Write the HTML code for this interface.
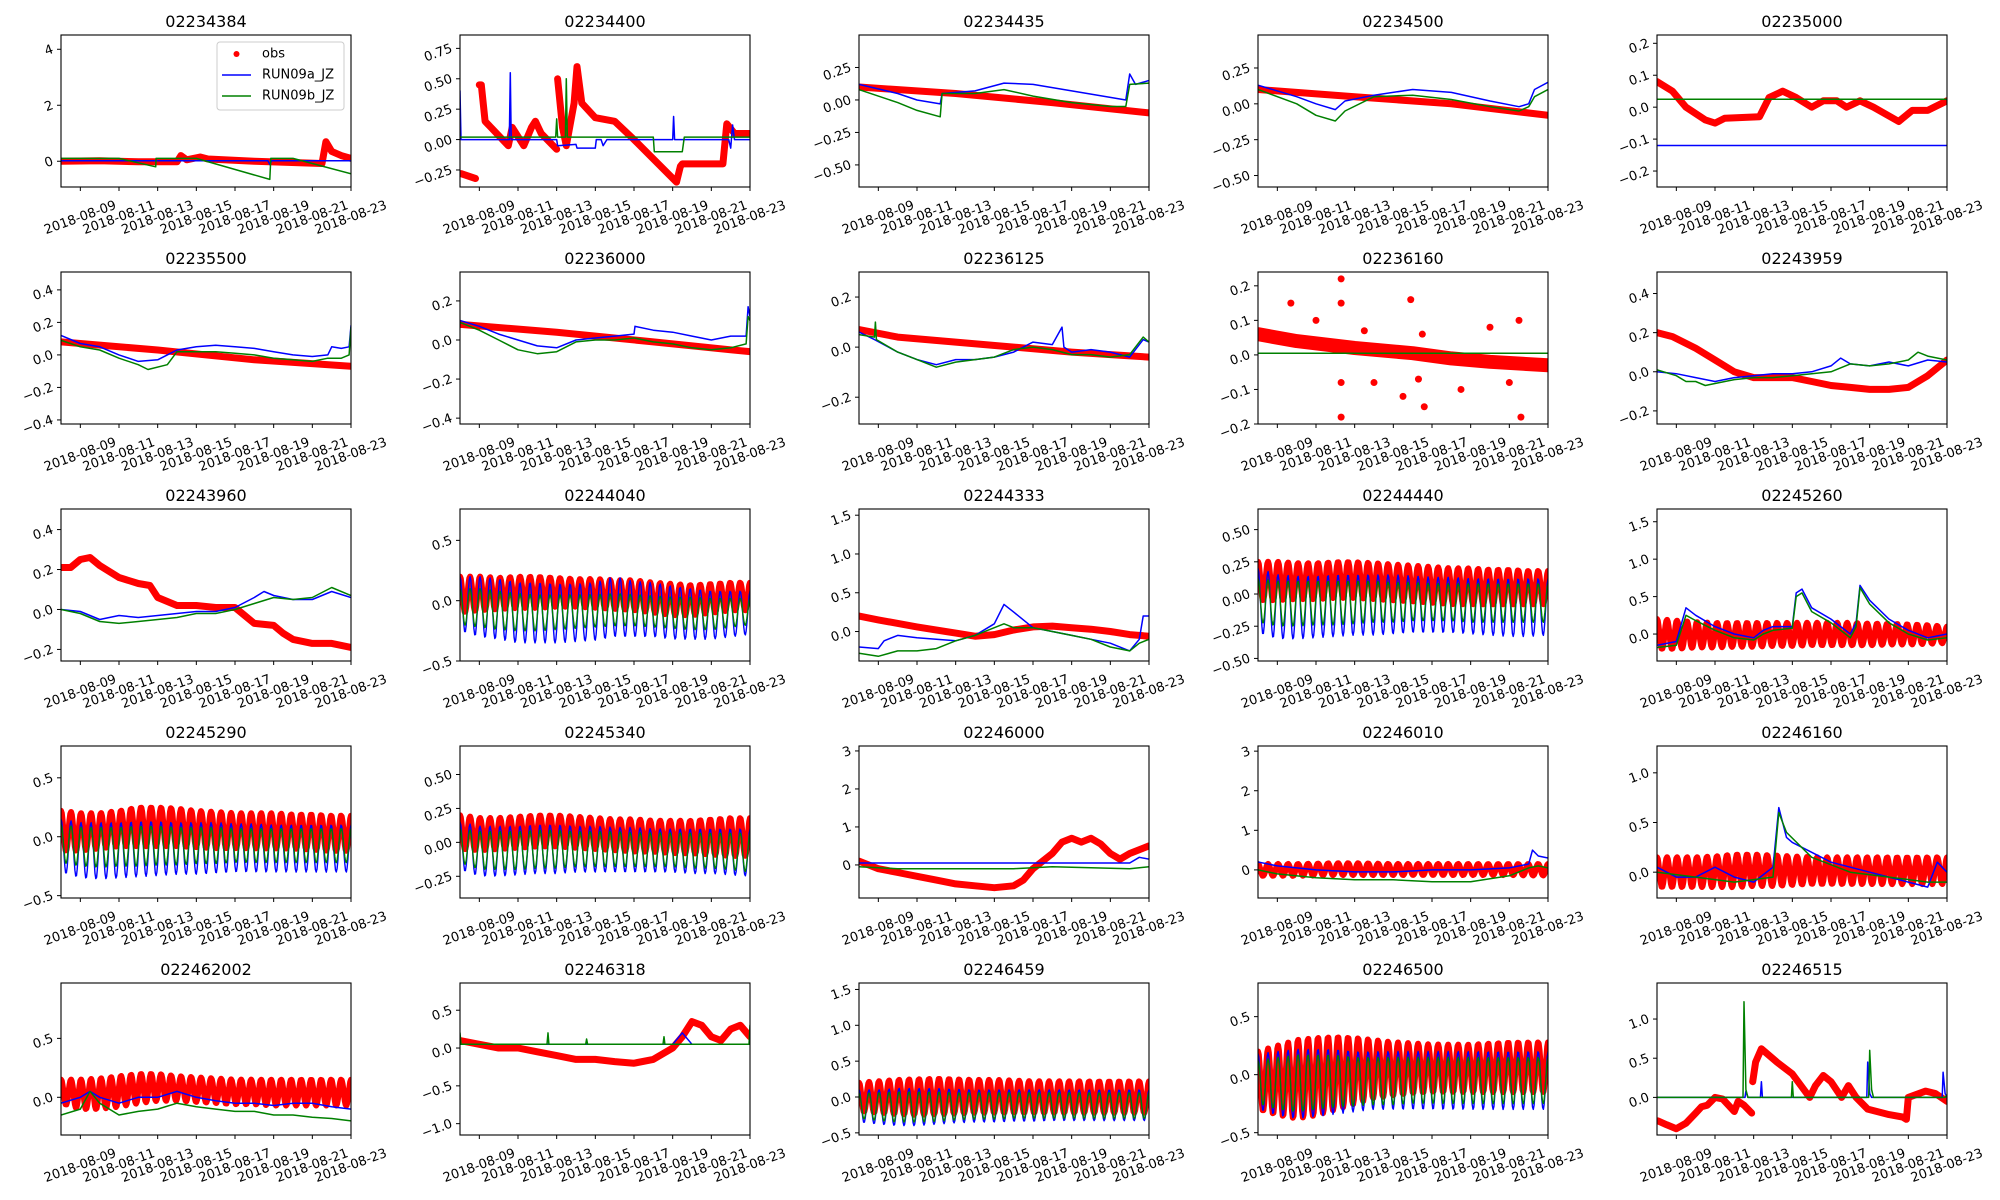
<!DOCTYPE html>
<html><head><meta charset="utf-8"><title>Stations</title>
<style>
html,body{margin:0;padding:0;background:#fff;}
svg{display:block;font-family:"DejaVu Sans","Liberation Sans",sans-serif;}
</style></head>
<body>
<svg id="fig" width="2000" height="1200" viewBox="0 0 2000 1200" xmlns="http://www.w3.org/2000/svg"></svg>
<script>
// ---------- data (days since 2018-08-08, value) ----------
const xTickLabels = ["2018-08-09","2018-08-11","2018-08-13","2018-08-15","2018-08-17","2018-08-19","2018-08-21","2018-08-23"];
const xTickDays = [1,3,5,7,9,11,13,15];
const titles = ["02234384","02234400","02234435","02234500","02235000","02235500","02236000","02236125","02236160","02243959","02243960","02244040","02244333","02244440","02245260","02245290","02245340","02246000","02246010","02246160","022462002","02246318","02246459","02246500","02246515"];
const yLims = [[-0.92,4.51],[-0.39,0.86],[-0.67,0.5],[-0.58,0.48],[-0.25,0.226],[-0.425,0.51],[-0.43,0.348],[-0.307,0.30],[-0.2,0.24],[-0.267,0.51],[-0.258,0.503],[-0.5,0.76],[-0.38,1.58],[-0.52,0.66],[-0.36,1.67],[-0.52,0.77],[-0.41,0.71],[-0.87,3.13],[-0.71,3.13],[-0.26,1.27],[-0.32,0.97],[-1.15,0.86],[-0.53,1.59],[-0.52,0.79],[-0.48,1.46]];
const yTicks = [["0","2","4"],["−0.25","0.00","0.25","0.50","0.75"],["−0.50","−0.25","0.00","0.25"],["−0.50","−0.25","0.00","0.25"],["−0.2","−0.1","0.0","0.1","0.2"],["−0.4","−0.2","0.0","0.2","0.4"],["−0.4","−0.2","0.0","0.2"],["−0.2","0.0","0.2"],["−0.2","−0.1","0.0","0.1","0.2"],["−0.2","0.0","0.2","0.4"],["−0.2","0.0","0.2","0.4"],["−0.5","0.0","0.5"],["0.0","0.5","1.0","1.5"],["−0.50","−0.25","0.00","0.25","0.50"],["0.0","0.5","1.0","1.5"],["−0.5","0.0","0.5"],["−0.25","0.00","0.25","0.50"],["0","1","2","3"],["0","1","2","3"],["0.0","0.5","1.0"],["0.0","0.5"],["−1.0","−0.5","0.0","0.5"],["−0.5","0.0","0.5","1.0","1.5"],["−0.5","0.0","0.5"],["0.0","0.5","1.0"]];

const p01_obs=[[0,0],[2,0.02],[4,-0.02],[6,-0.02],[6.2,0.2],[6.5,0.05],[7.2,0.15],[7.6,0.08],[10,0.0],[13.5,-0.08],[13.7,0.7],[14,0.35],[14.5,0.2],[15,0.1]];
const p01_a=[[0,0.02],[10.7,0.02],[10.8,-0.12],[10.9,0.02],[15,0.02]];
const p01_b=[[0,0.1],[3,0.1],[4.9,-0.2],[4.92,0.1],[7,0.1],[10.8,-0.65],[10.85,0.1],[12,0.1],[15,-0.45]];
const p02_obs=[[0.05,-0.28],[0.8,-0.32],[null,null],[1.0,0.45],[1.1,0.45],[1.3,0.15],[1.6,0.1],[2.5,-0.05],[2.7,0.1],[3.3,-0.05],[3.7,0.1],[3.9,0.15],[4.2,0.05],[5.0,-0.08],[null,null],[5.05,0.5],[5.3,0.1],[5.5,-0.05],[5.9,0.3],[6.05,0.6],[6.3,0.3],[7.0,0.18],[8.0,0.15],[9,0.0],[11.2,-0.35],[11.4,-0.22],[11.5,-0.2],[13.6,-0.2],[13.8,0.13],[14.2,0.05],[15,0.05]];
const p02_a=[[0,0.4],[0.05,0],[2.55,0],[2.6,0.55],[2.65,0],[5.0,0],[5.05,-0.05],[6,-0.04],[6.05,-0.07],[7.0,-0.07],[7.05,0],[7.3,0],[7.4,-0.05],[7.6,0],[11.0,0],[11.05,0.19],[11.1,0],[13.9,0],[14.0,-0.07],[14.1,0.12],[14.2,0],[15,0]];
const p02_b=[[0,0.02],[4.95,0.02],[5.0,0.17],[5.05,0.02],[5.45,0.02],[5.5,0.5],[5.55,0.02],[10.0,0.02],[10.05,-0.1],[11.5,-0.1],[11.6,0.02],[15,0.02]];
const p03_obs=[[0,0.1],[5,0.05],[10,-0.02],[15,-0.1]];
const p03_a=[[0,0.12],[2,0.05],[3,0.0],[4.2,-0.03],[4.3,0.05],[6,0.07],[7.5,0.13],[9,0.12],[11,0.07],[13,0.02],[13.8,0.0],[14.0,0.2],[14.3,0.12],[15,0.15]];
const p03_b=[[0,0.08],[2,-0.02],[3,-0.08],[4.2,-0.13],[4.3,0.05],[6,0.05],[7.5,0.08],[9,0.03],[11,-0.02],[13,-0.05],[13.8,-0.05],[14.0,0.12],[15,0.13]];
const p04_obs=[[0,0.1],[5,0.05],[10,0.0],[15,-0.08]];
const p04_a=[[0,0.13],[2,0.05],[3,0.0],[4,-0.04],[4.5,0.02],[6,0.06],[8,0.1],[10,0.08],[12,0.02],[13.5,-0.02],[14,0.0],[14.3,0.1],[15,0.15]];
const p04_b=[[0,0.1],[2,0.0],[3,-0.08],[4,-0.12],[4.5,-0.05],[6,0.05],[8,0.06],[10,0.03],[12,-0.02],[13.5,-0.05],[14,-0.02],[14.3,0.05],[15,0.1]];
const p05_obs=[[0,0.08],[0.8,0.05],[1.5,0.0],[2.5,-0.04],[3,-0.05],[3.5,-0.035],[5.3,-0.03],[5.8,0.03],[6.5,0.05],[7.2,0.03],[8.0,0.0],[8.6,0.02],[9.3,0.02],[9.8,0.0],[10.5,0.02],[11.2,0.0],[12.5,-0.045],[13.2,-0.01],[14,-0.01],[15,0.02]];
const p05_a=[[0,-0.12],[15,-0.12]];
const p05_b=[[0,0.025],[15,0.025]];
const p06_obs=[[0,0.08],[5,0.03],[10,-0.03],[15,-0.07]];
const p06_a=[[0,0.12],[1,0.07],[2,0.05],[3,0.0],[4,-0.04],[5,-0.03],[5.5,0.0],[6,0.03],[7,0.05],[8,0.06],[9,0.05],[10,0.04],[11,0.02],[12,0.0],[13,-0.01],[13.8,0.0],[14,0.05],[14.5,0.04],[14.9,0.05],[15,0.18]];
const p06_b=[[0,0.09],[1,0.05],[2,0.03],[3,-0.02],[4,-0.06],[4.5,-0.09],[5.5,-0.06],[6,0.02],[7,0.02],[8,0.02],[9,0.01],[10,0.0],[11,-0.02],[12,-0.03],[13,-0.04],[13.8,-0.02],[14.5,-0.02],[14.9,0.0],[15,0.17]];
const p07_obs=[[0,0.08],[5,0.04],[10,-0.01],[14,-0.05],[15,-0.06]];
const p07_a=[[0,0.1],[1,0.07],[2,0.03],[3,0.0],[4,-0.03],[5,-0.04],[6,0.0],[7,0.01],[8,0.02],[9,0.03],[9.05,0.07],[10,0.05],[11,0.04],[12,0.02],[13,0.0],[14,0.02],[14.8,0.02],[14.9,0.17],[15,0.12]];
const p07_b=[[0,0.09],[1,0.05],[2,0.0],[3,-0.05],[4,-0.07],[5,-0.06],[6,-0.01],[7,0.0],[8,0.0],[9,0.01],[10,-0.01],[11,-0.02],[12,-0.04],[13,-0.05],[14,-0.04],[14.8,-0.02],[14.9,0.12],[15,0.1]];
const p08_obs=[[0,0.07],[2,0.04],[5,0.02],[8,0.0],[11,-0.02],[13,-0.03],[15,-0.04]];
const p08_a=[[0,0.06],[0.8,0.03],[2,-0.02],[3,-0.05],[4,-0.07],[5,-0.05],[6,-0.05],[7,-0.04],[8,-0.02],[8.5,0.0],[9,0.02],[10,0.01],[10.5,0.08],[10.6,0.0],[11,-0.02],[12,-0.01],[13,-0.02],[14,-0.04],[14.7,0.03],[15,0.02]];
const p08_b=[[0,0.05],[0.8,0.04],[0.85,0.1],[0.9,0.03],[2,-0.02],[3,-0.05],[4,-0.08],[5,-0.06],[6,-0.05],[7,-0.04],[8,-0.01],[9,0.0],[10,-0.01],[11,-0.03],[12,-0.03],[13,-0.04],[14,-0.03],[14.7,0.04],[15,0.02]];
const p09_obs=[[0,0.06],[2,0.04],[5,0.02],[8,0.005],[10,-0.01],[12,-0.02],[15,-0.03]];
const p09_out=[[1.7,0.15],[3,0.1],[4.3,0.22],[4.3,-0.18],[4.3,0.15],[4.3,-0.08],[5.5,0.07],[6,-0.08],[7.9,0.16],[8.5,0.06],[8.3,-0.07],[8.6,-0.15],[12,0.08],[13.5,0.1],[13.6,-0.18],[13,-0.08],[7.5,-0.12],[10.5,-0.1]];
const p09_a=[[0,0.005],[15,0.005]];
const p09_b=[[0,0.005],[15,0.005]];
const p10_obs=[[0,0.2],[0.8,0.18],[2,0.12],[3,0.06],[4,0.0],[5,-0.03],[6,-0.03],[7,-0.03],[8,-0.05],[9,-0.07],[10,-0.08],[11,-0.09],[12,-0.09],[13,-0.08],[14,-0.02],[15,0.06]];
const p10_a=[[0,0.0],[1,-0.01],[2,-0.03],[3,-0.05],[4,-0.03],[5,-0.02],[6,-0.01],[7,-0.01],[8,0.0],[9,0.03],[9.5,0.07],[10,0.04],[11,0.03],[12,0.05],[13,0.03],[14,0.06],[15,0.05]];
const p10_b=[[0,0.01],[1,-0.02],[1.5,-0.05],[2,-0.05],[2.5,-0.07],[3,-0.06],[4,-0.04],[5,-0.03],[6,-0.03],[7,-0.02],[8,-0.01],[9,0.0],[10,0.04],[11,0.03],[12,0.04],[13,0.06],[13.5,0.1],[14,0.08],[15,0.06]];
const p11_obs=[[0,0.21],[0.5,0.21],[1,0.25],[1.5,0.26],[2,0.22],[3,0.16],[4,0.13],[4.6,0.12],[5,0.06],[6,0.02],[7,0.02],[8,0.01],[9,0.01],[9.5,-0.03],[10,-0.07],[11,-0.08],[11.5,-0.12],[12,-0.15],[13,-0.17],[14,-0.17],[15,-0.19]];
const p11_a=[[0,0.0],[1,-0.01],[2,-0.05],[3,-0.03],[4,-0.04],[5,-0.03],[6,-0.02],[7,-0.01],[8,-0.01],[9,0.01],[10,0.06],[10.5,0.09],[11,0.07],[12,0.05],[13,0.05],[14,0.09],[15,0.06]];
const p11_b=[[0,0.0],[1,-0.02],[2,-0.06],[3,-0.07],[4,-0.06],[5,-0.05],[6,-0.04],[7,-0.02],[8,-0.02],[9,0.0],[10,0.03],[11,0.06],[12,0.05],[13,0.06],[14,0.11],[15,0.07]];
const p12_obs_hi=[0.2,0.2,0.19,0.2,0.2,0.19,0.18,0.18,0.17,0.17,0.15,0.14,0.13,0.14,0.15,0.15];
const p12_obs_lo=[-0.1,-0.08,-0.07,-0.06,-0.06,-0.05,-0.05,-0.06,-0.07,-0.08,-0.1,-0.12,-0.12,-0.1,-0.08,-0.08];
const p12_a_hi=[0.2,0.2,0.18,0.15,0.15,0.14,0.14,0.15,0.2,0.16,0.15,0.12,0.1,0.08,0.08,0.08];
const p12_a_lo=[-0.25,-0.3,-0.32,-0.35,-0.35,-0.35,-0.34,-0.33,-0.3,-0.3,-0.3,-0.32,-0.32,-0.32,-0.3,-0.28];
const p12_b_hi=[0.1,0.1,0.08,0.06,0.05,0.05,0.05,0.05,0.06,0.05,0.04,0.03,0.03,0.02,0.02,0.02];
const p12_b_lo=[-0.2,-0.22,-0.24,-0.25,-0.25,-0.24,-0.23,-0.22,-0.21,-0.21,-0.22,-0.23,-0.24,-0.24,-0.22,-0.2];
const p13_obs=[[0,0.2],[1,0.15],[3,0.06],[5,-0.02],[6,-0.06],[7,-0.04],[8,0.02],[9,0.06],[10,0.07],[11,0.05],[12,0.03],[13,0.0],[14,-0.04],[15,-0.06]];
const p13_a=[[0,-0.2],[1,-0.22],[1.3,-0.12],[2,-0.05],[3,-0.08],[4,-0.1],[5,-0.12],[6,-0.05],[7,0.1],[7.5,0.35],[8,0.25],[9,0.05],[10,0.0],[11,-0.05],[12,-0.1],[13,-0.15],[14,-0.25],[14.5,-0.1],[14.7,0.2],[15,0.2]];
const p13_b=[[0,-0.28],[1,-0.32],[2,-0.25],[3,-0.25],[4,-0.22],[5,-0.12],[6,-0.05],[7,0.05],[7.5,0.1],[8,0.05],[9,0.05],[10,0.0],[11,-0.05],[12,-0.1],[13,-0.2],[14,-0.25],[14.5,-0.15],[15,-0.1]];
const p14_obs_hi=[0.25,0.25,0.24,0.24,0.25,0.25,0.24,0.23,0.22,0.21,0.2,0.2,0.19,0.19,0.18,0.18];
const p14_obs_lo=[-0.05,-0.05,-0.04,-0.04,-0.03,-0.03,-0.04,-0.05,-0.06,-0.07,-0.08,-0.08,-0.08,-0.08,-0.08,-0.08];
const p14_a_hi=[0.2,0.15,0.14,0.14,0.15,0.15,0.15,0.15,0.14,0.13,0.13,0.12,0.12,0.12,0.12,0.12];
const p14_a_lo=[-0.3,-0.35,-0.35,-0.34,-0.33,-0.32,-0.32,-0.31,-0.3,-0.3,-0.3,-0.31,-0.32,-0.33,-0.33,-0.32];
const p14_b_hi=[0.12,0.1,0.1,0.1,0.1,0.1,0.1,0.09,0.09,0.08,0.08,0.08,0.08,0.08,0.08,0.08];
const p14_b_lo=[-0.22,-0.25,-0.25,-0.24,-0.24,-0.23,-0.22,-0.22,-0.21,-0.21,-0.21,-0.22,-0.22,-0.22,-0.22,-0.22];
const p15_obs_hi=[0.2,0.18,0.16,0.15,0.15,0.15,0.15,0.15,0.15,0.15,0.15,0.14,0.14,0.13,0.12,0.1];
const p15_obs_lo=[-0.2,-0.2,-0.18,-0.18,-0.17,-0.17,-0.16,-0.16,-0.15,-0.15,-0.15,-0.15,-0.14,-0.14,-0.13,-0.12];
const p15_a=[[0,-0.15],[1,-0.1],[1.5,0.35],[2,0.25],[3,0.1],[4,0.0],[5,-0.05],[5.5,0.05],[6,0.1],[7,0.1],[7.2,0.55],[7.5,0.6],[8,0.35],[9,0.2],[9.5,0.1],[10,0.0],[10.3,0.15],[10.5,0.65],[11,0.45],[12,0.2],[13,0.05],[14,-0.05],[15,0.0]];
const p15_b=[[0,-0.18],[1,-0.15],[1.5,0.25],[2,0.18],[3,0.05],[4,-0.05],[5,-0.08],[5.5,0.0],[6,0.05],[7,0.08],[7.2,0.5],[7.5,0.55],[8,0.3],[9,0.15],[9.5,0.05],[10,-0.05],[10.3,0.1],[10.5,0.62],[11,0.4],[12,0.15],[13,0.0],[14,-0.08],[15,-0.05]];
const p16_obs_hi=[0.22,0.2,0.2,0.22,0.25,0.25,0.24,0.22,0.21,0.2,0.2,0.2,0.19,0.19,0.18,0.18];
const p16_obs_lo=[-0.12,-0.12,-0.1,-0.08,-0.08,-0.08,-0.08,-0.09,-0.1,-0.1,-0.1,-0.1,-0.1,-0.11,-0.12,-0.12];
const p16_a_hi=[0.15,0.12,0.12,0.12,0.13,0.13,0.12,0.12,0.12,0.11,0.11,0.1,0.1,0.1,0.1,0.1];
const p16_a_lo=[-0.3,-0.35,-0.36,-0.35,-0.34,-0.33,-0.32,-0.32,-0.31,-0.3,-0.3,-0.3,-0.3,-0.3,-0.3,-0.3];
const p16_b_hi=[0.1,0.08,0.08,0.08,0.09,0.09,0.08,0.08,0.08,0.07,0.07,0.07,0.07,0.07,0.07,0.07];
const p16_b_lo=[-0.22,-0.25,-0.26,-0.25,-0.25,-0.24,-0.24,-0.23,-0.23,-0.22,-0.22,-0.22,-0.22,-0.22,-0.22,-0.22];
const p17_obs_hi=[0.2,0.18,0.18,0.19,0.2,0.2,0.19,0.18,0.17,0.17,0.16,0.16,0.16,0.17,0.18,0.18];
const p17_obs_lo=[-0.05,-0.06,-0.05,-0.04,-0.03,-0.03,-0.04,-0.05,-0.06,-0.07,-0.07,-0.08,-0.08,-0.09,-0.1,-0.1];
const p17_a_hi=[0.15,0.12,0.12,0.12,0.13,0.13,0.12,0.12,0.11,0.11,0.1,0.1,0.1,0.1,0.1,0.1];
const p17_a_lo=[-0.2,-0.25,-0.25,-0.24,-0.23,-0.23,-0.22,-0.22,-0.22,-0.22,-0.22,-0.22,-0.23,-0.23,-0.24,-0.25];
const p17_b_hi=[0.1,0.08,0.08,0.08,0.09,0.09,0.08,0.08,0.08,0.07,0.07,0.07,0.07,0.07,0.07,0.07];
const p17_b_lo=[-0.15,-0.2,-0.2,-0.2,-0.19,-0.19,-0.18,-0.18,-0.18,-0.18,-0.18,-0.18,-0.19,-0.19,-0.2,-0.22];
const p18_obs=[[0,0.1],[1,-0.1],[2,-0.2],[3,-0.3],[4,-0.4],[5,-0.5],[6,-0.55],[7,-0.6],[8,-0.55],[8.5,-0.4],[9,-0.1],[10,0.3],[10.5,0.6],[11,0.7],[11.5,0.6],[12,0.7],[12.5,0.55],[13,0.3],[13.5,0.15],[14,0.3],[15,0.5]];
const p18_a=[[0,0.05],[10,0.05],[14,0.05],[14.5,0.2],[15,0.15]];
const p18_b=[[0,-0.05],[2,-0.1],[6,-0.1],[8,-0.1],[10,-0.05],[14,-0.1],[15,-0.05]];
const p19_obs_hi=[0.15,0.15,0.15,0.16,0.17,0.17,0.16,0.15,0.15,0.15,0.15,0.15,0.15,0.15,0.15,0.15];
const p19_obs_lo=[-0.15,-0.15,-0.15,-0.14,-0.13,-0.13,-0.13,-0.13,-0.13,-0.13,-0.13,-0.13,-0.13,-0.13,-0.14,-0.14];
const p19_a=[[0,0.2],[1,0.1],[3,0.0],[5,-0.05],[7,-0.05],[9,0.0],[11,0.0],[13,0.05],[14,0.15],[14.2,0.5],[14.5,0.35],[15,0.3]];
const p19_b=[[0,0.0],[1,-0.1],[3,-0.2],[5,-0.25],[7,-0.25],[9,-0.3],[11,-0.3],[13,-0.15],[14,0.05],[14.5,0.1],[15,0.05]];
const p20_obs_hi=[0.15,0.15,0.15,0.16,0.18,0.18,0.17,0.16,0.15,0.15,0.15,0.15,0.15,0.15,0.15,0.15];
const p20_obs_lo=[-0.15,-0.15,-0.15,-0.15,-0.15,-0.14,-0.14,-0.13,-0.12,-0.12,-0.12,-0.12,-0.12,-0.12,-0.12,-0.12];
const p20_a=[[0,0.05],[1,-0.05],[2,-0.05],[3,0.05],[4,-0.05],[5,-0.1],[6,0.05],[6.3,0.65],[6.7,0.35],[7,0.3],[8,0.2],[9,0.1],[10,0.05],[11,0.0],[12,-0.05],[13,-0.1],[14,-0.15],[14.5,0.1],[15,0.0]];
const p20_b=[[0,0.0],[2,-0.05],[4,-0.1],[6,-0.05],[6.3,0.6],[6.7,0.4],[8,0.15],[10,0.0],[12,-0.05],[14,-0.1],[15,-0.1]];
const p21_obs_hi=[0.15,0.15,0.16,0.18,0.2,0.2,0.18,0.17,0.16,0.15,0.15,0.15,0.15,0.15,0.15,0.15];
const p21_obs_lo=[-0.05,-0.1,-0.1,-0.08,-0.05,-0.03,-0.03,-0.04,-0.05,-0.06,-0.06,-0.07,-0.07,-0.07,-0.07,-0.07];
const p21_a=[[0,-0.05],[1,0.0],[1.5,0.05],[2,0.0],[3,-0.05],[4,0.0],[5,0.0],[6,0.05],[7,0.0],[8,-0.03],[9,-0.05],[10,-0.05],[11,-0.07],[12,-0.05],[13,-0.05],[14,-0.08],[15,-0.1]];
const p21_b=[[0,-0.15],[1,-0.1],[1.5,0.05],[2,-0.05],[3,-0.15],[4,-0.12],[5,-0.1],[6,-0.05],[7,-0.08],[8,-0.1],[9,-0.12],[10,-0.12],[11,-0.15],[12,-0.15],[13,-0.17],[14,-0.18],[15,-0.2]];
const p22_obs=[[0,0.1],[1,0.05],[2,0.0],[3,0.0],[4,-0.05],[5,-0.1],[6,-0.15],[7,-0.15],[8,-0.18],[9,-0.2],[10,-0.15],[11,0.0],[11.5,0.15],[12,0.35],[12.5,0.3],[13,0.15],[13.5,0.1],[14,0.25],[14.5,0.3],[15,0.15]];
const p22_a=[[0,0.05],[10,0.05],[11,0.05],[11.5,0.2],[12,0.05],[15,0.05]];
const p22_b=[[0,0.2],[0.05,0.05],[4.5,0.05],[4.55,0.2],[4.6,0.05],[6.5,0.05],[6.55,0.12],[6.6,0.05],[10.5,0.05],[10.55,0.15],[10.6,0.05],[14.95,0.05],[15,0.3]];
const p23_obs_hi=[0.2,0.22,0.24,0.25,0.26,0.25,0.24,0.24,0.23,0.22,0.22,0.22,0.22,0.22,0.22,0.22];
const p23_obs_lo=[-0.2,-0.22,-0.24,-0.25,-0.24,-0.23,-0.22,-0.22,-0.22,-0.22,-0.22,-0.22,-0.22,-0.22,-0.22,-0.22];
const p23_a_hi=[0.1,0.1,0.12,0.12,0.12,0.11,0.1,0.1,0.1,0.1,0.1,0.1,0.1,0.1,0.1,0.1];
const p23_a_lo=[-0.35,-0.38,-0.4,-0.4,-0.38,-0.36,-0.35,-0.35,-0.34,-0.34,-0.33,-0.33,-0.33,-0.33,-0.33,-0.33];
const p23_b_hi=[0.05,0.06,0.07,0.07,0.07,0.06,0.06,0.06,0.06,0.06,0.06,0.06,0.06,0.06,0.06,0.06];
const p23_b_lo=[-0.3,-0.33,-0.35,-0.35,-0.34,-0.32,-0.31,-0.31,-0.3,-0.3,-0.3,-0.3,-0.3,-0.3,-0.3,-0.3];
const p24_obs_hi=[0.2,0.25,0.3,0.32,0.33,0.32,0.3,0.28,0.27,0.26,0.26,0.26,0.27,0.28,0.28,0.28];
const p24_obs_lo=[-0.3,-0.35,-0.38,-0.35,-0.3,-0.25,-0.2,-0.18,-0.16,-0.15,-0.15,-0.15,-0.15,-0.15,-0.15,-0.15];
const p24_a_hi=[0.18,0.2,0.22,0.22,0.22,0.2,0.2,0.2,0.2,0.2,0.2,0.2,0.2,0.2,0.2,0.2];
const p24_a_lo=[-0.3,-0.35,-0.38,-0.36,-0.34,-0.32,-0.3,-0.3,-0.3,-0.3,-0.3,-0.3,-0.3,-0.3,-0.3,-0.3];
const p24_b_hi=[0.12,0.15,0.17,0.17,0.17,0.15,0.15,0.15,0.15,0.15,0.15,0.15,0.15,0.15,0.15,0.15];
const p24_b_lo=[-0.25,-0.3,-0.32,-0.3,-0.28,-0.27,-0.26,-0.26,-0.25,-0.25,-0.25,-0.25,-0.25,-0.25,-0.25,-0.25];
const p25_obs=[[0.05,-0.3],[0.5,-0.35],[1.0,-0.4],[1.5,-0.33],[2.0,-0.2],[2.3,-0.12],[2.6,-0.1],[3.0,0.0],[3.4,-0.02],[4.0,-0.18],[4.2,-0.05],[4.5,-0.1],[4.9,-0.2],[null,null],[4.95,0.2],[5.1,0.45],[5.4,0.62],[6.2,0.45],[7.0,0.3],[7.9,0.0],[8.2,0.15],[8.6,0.28],[9.0,0.2],[9.55,0.0],[9.9,0.15],[10.3,0.0],[10.9,-0.15],[12.0,-0.22],[12.7,-0.25],[12.9,-0.28],[13.0,0.0],[13.9,0.08],[14.4,0.05],[15,-0.05]];
const p25_a=[[0,0],[4.55,0],[4.6,0.08],[4.7,0],[5.35,0],[5.4,0.2],[5.45,0],[10.85,0],[10.9,0.45],[11.0,0.05],[11.1,0],[14.75,0],[14.8,0.32],[14.9,0.05],[15,0]];
const p25_b=[[0,0],[4.45,0],[4.5,1.22],[4.6,0.1],[4.7,0],[6.95,0],[7.0,0.2],[7.05,0],[10.95,0],[11.0,0.6],[11.1,0.1],[11.2,0],[14.9,0],[15,0.03]];

const T=(hi,lo)=>({tide:true,hi:hi,lo:lo});
const obsSeries=[p01_obs,p02_obs,p03_obs,p04_obs,p05_obs,p06_obs,p07_obs,p08_obs,p09_obs,p10_obs,p11_obs,T(p12_obs_hi,p12_obs_lo),p13_obs,T(p14_obs_hi,p14_obs_lo),T(p15_obs_hi,p15_obs_lo),T(p16_obs_hi,p16_obs_lo),T(p17_obs_hi,p17_obs_lo),p18_obs,T(p19_obs_hi,p19_obs_lo),T(p20_obs_hi,p20_obs_lo),T(p21_obs_hi,p21_obs_lo),p22_obs,T(p23_obs_hi,p23_obs_lo),T(p24_obs_hi,p24_obs_lo),p25_obs];
const aSeries=[p01_a,p02_a,p03_a,p04_a,p05_a,p06_a,p07_a,p08_a,p09_a,p10_a,p11_a,T(p12_a_hi,p12_a_lo),p13_a,T(p14_a_hi,p14_a_lo),p15_a,T(p16_a_hi,p16_a_lo),T(p17_a_hi,p17_a_lo),p18_a,p19_a,p20_a,p21_a,p22_a,T(p23_a_hi,p23_a_lo),T(p24_a_hi,p24_a_lo),p25_a];
const bSeries=[p01_b,p02_b,p03_b,p04_b,p05_b,p06_b,p07_b,p08_b,p09_b,p10_b,p11_b,T(p12_b_hi,p12_b_lo),p13_b,T(p14_b_hi,p14_b_lo),p15_b,T(p16_b_hi,p16_b_lo),T(p17_b_hi,p17_b_lo),p18_b,p19_b,p20_b,p21_b,p22_b,T(p23_b_hi,p23_b_lo),T(p24_b_hi,p24_b_lo),p25_b];

// ---------- rendering ----------
const NS="http://www.w3.org/2000/svg";
const svg=document.getElementById('fig');
function mk(tag,attrs,parent){const e=document.createElementNS(NS,tag);for(const k in attrs)e.setAttribute(k,attrs[k]);(parent||svg).appendChild(e);return e;}
function expand(s){
  if(!s.tide) return s;
  const pts=[];
  for(let t=0;t<=15.0001;t+=0.04){
    const i=Math.min(14,Math.floor(t)),f=t-i;
    const h=s.hi[i]+(s.hi[i+1]-s.hi[i])*f, l=s.lo[i]+(s.lo[i+1]-s.lo[i])*f;
    pts.push([t,(h+l)/2+(h-l)/2*Math.cos(2*Math.PI*t*1.932)]);
  }
  return pts;
}
const W=290,H=152,DAYS=15;
for(let i=0;i<25;i++){
  const x0=61+399*(i%5), y0=35+237*Math.floor(i/5);
  const [ymin,ymax]=yLims[i];
  const xs=d=>x0+d/DAYS*W;
  const ys=v=>y0+H-(v-ymin)/(ymax-ymin)*H;
  const g=mk('g',{});
  
  
  const cp=mk('clipPath',{id:'c'+i},g);
  mk('rect',{x:x0,y:y0,width:W,height:H},cp);
  const title=mk('text',{x:x0+W/2,y:y0-8,'text-anchor':'middle','font-size':16,fill:'#000'},g);
  title.textContent=titles[i];
  
  
  const plot=mk('g',{'clip-path':'url(#c'+i+')'},g);
  const line=(s,color,w,name)=>{
    const pts=expand(s);let d='',pen=false;
    for(const p of pts){ if(p[0]===null){pen=false;continue;} d+=(pen?'L':'M')+xs(p[0]).toFixed(1)+' '+ys(p[1]).toFixed(1); pen=true;}
    const e=mk('path',{d:d,fill:'none',stroke:color,'stroke-width':w,'stroke-linejoin':'round','stroke-linecap':'round'},plot);
    
    
  };
  const obsW = i===8 ? 14 : (obsSeries[i].tide ? 6 : 7);
  line(obsSeries[i],'#ff0000',obsW,'obs-series');
  if(i===8){
    for(const p of p09_out){const c=mk('circle',{cx:xs(p[0]),cy:ys(p[1]),r:3.5,fill:'#ff0000'},plot);
      
      }
  }
  line(aSeries[i],'#0000ff',aSeries[i].tide?1.4:1.5,'run09a-series');
  line(bSeries[i],'#008000',bSeries[i].tide?1.4:1.5,'run09b-series');
  const fr=mk('rect',{x:x0,y:y0,width:W,height:H,fill:'none',stroke:'#000','stroke-width':1.1},g);
  
  
  xTickDays.forEach((d,k)=>{
    const x=xs(d);
    mk('line',{x1:x,x2:x,y1:y0+H,y2:y0+H+4,stroke:'#000','stroke-width':1},g);
    const t=mk('text',{'text-anchor':'middle','dominant-baseline':'central','font-size':13,fill:'#000',transform:'translate('+x+','+(y0+H+31)+') rotate(-20)'},g);
    t.textContent=xTickLabels[k];
    
    
  });
  yTicks[i].forEach(lab=>{
    const v=parseFloat(lab.replace('−','-'));const y=ys(v);
    mk('line',{x1:x0-4,x2:x0,y1:y,y2:y,stroke:'#000','stroke-width':1},g);
    const t=mk('text',{'text-anchor':'end','dominant-baseline':'central','font-size':13,fill:'#000',transform:'translate('+(x0-8)+','+y+') rotate(-20)'},g);
    t.textContent=lab;
    
    
  });
}
// legend in first subplot
const lg=mk('g',{});


mk('rect',{x:217,y:42,width:127,height:68,rx:3,fill:'#fff','fill-opacity':0.8,stroke:'#ccc','stroke-width':1},lg);
const le=[['obs','#ff0000','dot',54],['RUN09a_JZ','#0000ff','line',75],['RUN09b_JZ','#008000','line',96]];
le.forEach(e=>{
  if(e[2]==='dot'){mk('circle',{cx:236.5,cy:e[3],r:3,fill:e[1]},lg);}
  else mk('line',{x1:222,x2:251,y1:e[3],y2:e[3],stroke:e[1],'stroke-width':1.6},lg);
  const t=mk('text',{x:262,y:e[3],'dominant-baseline':'central','font-size':13,fill:'#000'},lg);
  t.textContent=e[0];
  
  
});
</script>
</body></html>
